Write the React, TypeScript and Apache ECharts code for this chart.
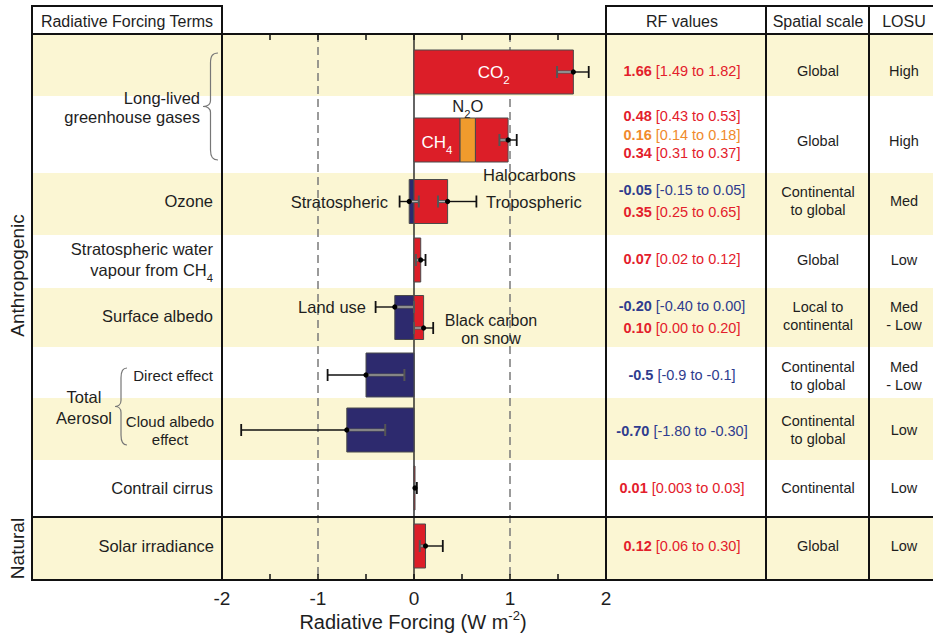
import React, { useEffect, useRef } from "react";
import * as echarts from "echarts";

// ---------------- DATA ----------------
const COMPONENTS = [
  "CO2", "CH4", "N2O", "Halocarbons",
  "Stratospheric ozone", "Tropospheric ozone",
  "Stratospheric water vapour",
  "Land use", "Black carbon on snow",
  "Direct effect", "Cloud albedo effect",
  "Contrail cirrus", "Solar irradiance",
];
const RF_MEAN = ["1.66", "0.48", "0.16", "0.34", "-0.05", "0.35", "0.07", "-0.20", "0.10", "-0.5", "-0.70", "0.01", "0.12"];
const RF_LOW = ["1.49", "0.43", "0.14", "0.31", "-0.15", "0.25", "0.02", "-0.40", "0.00", "-0.9", "-1.80", "0.003", "0.06"];
const RF_HIGH = ["1.82", "0.53", "0.18", "0.37", "0.05", "0.65", "0.12", "0.00", "0.20", "-0.1", "-0.30", "0.03", "0.30"];
// components whose own error bar is drawn
const HAS_ERRBAR = [true, false, false, false, true, true, true, true, true, true, true, true, true];
// combined error bar of CH4 + N2O + halocarbons stack: [mean, low, high]
const LLGHG_STACK_ERR = [0.98, 0.89, 1.07];

const SPATIAL_SCALE = [
  ["Global"], ["Global"], ["Continental", "to global"], ["Global"],
  ["Local to", "continental"], ["Continental", "to global"], ["Continental", "to global"],
  ["Continental"], ["Global"],
];
const LOSU = [["High"], ["High"], ["Med"], ["Low"], ["Med", "- Low"], ["Med", "- Low"], ["Low"], ["Low"], ["Low"]];
const X_TICK_LABELS = [-2, -1, 0, 1, 2];
const GUIDE_VALUES = [-1, 0, 1];

// ---------------- LAYOUT ----------------
const FONT = '"Liberation Sans", Arial, Helvetica, sans-serif';
const COLS = [32, 222, 606, 766, 869];
const TOP = 6;
const HEAD = 34;
const BOTTOM = 580;
const NATURAL_SEP = 517;
const RIGHT = 933;
const ROW_EDGES = [34, 96, 173, 235, 288, 347, 398, 460, 517, 580];
const ROW_BAR_Y = [72, 140, 201.5, 260, 317.5, 375, 430, 488, 546];
const COMP_ROW = [0, 1, 1, 1, 2, 2, 3, 4, 4, 5, 6, 7, 8];
const ERR_DY = [0, 0, 0, 0, 0, 0, 0, -10.5, 10.5, 0, 0, 0, 0];
const RF_TEXT_Y = [71, 116, 135, 153, 190, 212, 259, 306, 328, 375, 431, 488, 546];
const ROW_TEXT_Y = [71, 141, 201, 260, 316, 376, 430, 488, 546];
const BAR_H = 44;
const CAP = 6;

const YELLOW = "#fbf6d3";
const BAR_RED = "#dc1e28";
const BAR_BLUE = "#2d2a6e";
const BAR_ORANGE = "#f09b2d";
const TXT_RED = "#e3202b";
const TXT_ORANGE = "#f08a2c";
const TXT_BLUE = "#2f3c8e";
const INK = "#1e1e1e";

function kindOf(i: number): "red" | "blue" | "orange" {
  if (COMPONENTS[i] === "N2O") return "orange";
  return Number(RF_MEAN[i]) < 0 ? "blue" : "red";
}
const BAR_COLORS: Record<string, string> = { red: BAR_RED, blue: BAR_BLUE, orange: BAR_ORANGE };
const TXT_COLORS: Record<string, string> = { red: TXT_RED, blue: TXT_BLUE, orange: TXT_ORANGE };

function braceD(w: number, h: number) {
  const m = h / 2;
  const k = w / 2;
  return `M${w},0 C${k + 2},0 ${k},3 ${k},10 L${k},${m - 6} C${k},${m - 2} ${k - 3},${m} 0,${m} C${k - 3},${m} ${k},${m + 2} ${k},${m + 6} L${k},${h - 10} C${k},${h - 3} ${k + 2},${h} ${w},${h}`;
}

function txt(x: number, y: number, text: string, o: any = {}) {
  const align = o.align || "right";
  return {
    type: "text",
    x,
    y,
    z: 20,
    rotation: o.rotation || 0,
    style: {
      text,
      fill: o.fill || INK,
      fontSize: o.fontSize || 16,
      fontFamily: FONT,
      fontWeight: o.fontWeight || "normal",
      align,
      textAlign: align,
      verticalAlign: "middle",
      textVerticalAlign: "middle",
      rich: o.rich,
    },
  };
}
function subRich(size: number, fill: string) {
  return {
    n: { fontSize: size, fontFamily: FONT, fill, color: fill, lineHeight: size + 10 },
    s: { fontSize: size * 0.68, fontFamily: FONT, fill, color: fill, verticalAlign: "bottom", lineHeight: size * 0.68 + 1 },
  };
}
function hline(x1: number, x2: number, y: number, w = 2) {
  return { type: "line", z: 30, shape: { x1, y1: y, x2, y2: y }, style: { stroke: "#111", lineWidth: w } };
}
function vline(x: number, y1: number, y2: number, w = 2) {
  return { type: "line", z: 30, shape: { x1: x, y1, x2: x, y2 }, style: { stroke: "#111", lineWidth: w } };
}

export default function App() {
  const ref = useRef<HTMLDivElement>(null);

  useEffect(() => {
    const el = ref.current!;
    echarts.graphic.registerShape("braceLL", echarts.graphic.extendPath(braceD(15, 107), {}));
    echarts.graphic.registerShape("braceAer", echarts.graphic.extendPath(braceD(12, 77), {}));
    const chart = echarts.init(el, null, { renderer: "svg" });

    // stacked bars
    const posAcc: Record<number, number> = {};
    const negAcc: Record<number, number> = {};
    const barData = RF_MEAN.map((m, i) => {
      const v = Number(m);
      const r = COMP_ROW[i];
      const acc = v >= 0 ? posAcc : negAcc;
      const s = acc[r] ?? 0;
      acc[r] = s + v;
      return [s, s + v, ROW_BAR_Y[r], i];
    });

    const errData: number[][] = [];
    RF_MEAN.forEach((m, i) => {
      if (HAS_ERRBAR[i]) {
        errData.push([Number(m), Number(RF_LOW[i]), Number(RF_HIGH[i]), ROW_BAR_Y[COMP_ROW[i]] + ERR_DY[i]]);
      }
    });
    errData.push([LLGHG_STACK_ERR[0], LLGHG_STACK_ERR[1], LLGHG_STACK_ERR[2], ROW_BAR_Y[1]]);

    const elements: any[] = [];
    // bands
    for (let r = 0; r < ROW_EDGES.length - 1; r++) {
      elements.push({
        type: "rect",
        z: -5,
        shape: { x: COLS[0], y: ROW_EDGES[r], width: RIGHT - COLS[0], height: ROW_EDGES[r + 1] - ROW_EDGES[r] },
        style: { fill: r % 2 === 0 ? YELLOW : "#ffffff" },
      });
    }
    // frame
    elements.push(hline(COLS[0] - 1, COLS[1] + 1, TOP));
    elements.push(hline(COLS[2] - 1, RIGHT, TOP));
    elements.push(hline(COLS[0] - 1, RIGHT, HEAD));
    elements.push(hline(COLS[0] - 1, RIGHT, NATURAL_SEP));
    elements.push(hline(COLS[0] - 1, RIGHT, BOTTOM));
    COLS.forEach((x) => elements.push(vline(x, TOP, BOTTOM + 1)));

    // headers
    elements.push(txt((COLS[0] + COLS[1]) / 2, 21, "Radiative Forcing Terms", { align: "center", fontSize: 16 }));
    elements.push(txt(682, 21, "RF values", { align: "center", fontSize: 16 }));
    elements.push(txt(818, 21, "Spatial scale", { align: "center", fontSize: 16 }));
    elements.push(txt(904, 21, "LOSU", { align: "center", fontSize: 16 }));

    // vertical category labels
    elements.push(txt(17, (HEAD + NATURAL_SEP) / 2, "Anthropogenic", { align: "center", fontSize: 19, rotation: Math.PI / 2 }));
    elements.push(txt(17, (NATURAL_SEP + BOTTOM) / 2, "Natural", { align: "center", fontSize: 19, rotation: Math.PI / 2 }));

    // left term labels
    elements.push(txt(200, 98, "Long-lived", { fontSize: 16.5 }));
    elements.push(txt(200, 117, "greenhouse gases", { fontSize: 16.5 }));
    elements.push({ type: "braceLL", x: 203, y: 53, z: 20, style: { fill: null, stroke: "#777", lineWidth: 1.2 } });
    elements.push(txt(213, ROW_TEXT_Y[2], "Ozone", { fontSize: 16.5 }));
    elements.push(txt(213, 249, "Stratospheric water", { fontSize: 16.5 }));
    elements.push(txt(213, 270, "{n|vapour from CH}{s|4}", { rich: subRich(16.5, INK) }));
    elements.push(txt(213, ROW_TEXT_Y[4], "Surface albedo", { fontSize: 16.5 }));
    elements.push(txt(213, 375, "Direct effect", { fontSize: 15 }));
    elements.push(txt(170, 421, "Cloud albedo", { align: "center", fontSize: 15 }));
    elements.push(txt(170, 439, "effect", { align: "center", fontSize: 15 }));
    elements.push({ type: "braceAer", x: 115, y: 368, z: 20, style: { fill: null, stroke: "#777", lineWidth: 1.2 } });
    elements.push(txt(84, 397, "Total", { align: "center", fontSize: 16.5 }));
    elements.push(txt(84, 418, "Aerosol", { align: "center", fontSize: 16.5 }));
    elements.push(txt(213, ROW_TEXT_Y[7], "Contrail cirrus", { fontSize: 16.5 }));
    elements.push(txt(214, ROW_TEXT_Y[8], "Solar irradiance", { fontSize: 16.5 }));

    // in-plot annotations
    const xPix = (v: number) => 414 + v * 96;
    const midOf = (i: number) => (barData[i][0] + barData[i][1]) / 2;
    elements.push(txt(xPix(midOf(0)), 72, "{n|CO}{s|2}", { align: "center", rich: subRich(17, "#ffffff") }));
    elements.push(txt(xPix(midOf(1)), 142, "{n|CH}{s|4}", { align: "center", rich: subRich(17, "#ffffff") }));
    elements.push(txt(xPix(midOf(2)), 106, "{n|N}{s|2}{n|O}", { align: "center", rich: subRich(16.5, INK) }));
    elements.push(txt(483, 175, "Halocarbons", { align: "left", fontSize: 16.5 }));
    elements.push(txt(388, 202, "Stratospheric", { align: "right", fontSize: 16.5 }));
    elements.push(txt(486, 202, "Tropospheric", { align: "left", fontSize: 16.5 }));
    elements.push(txt(366, 307, "Land use", { align: "right", fontSize: 16.5 }));
    elements.push(txt(491, 320, "Black carbon", { align: "center", fontSize: 16 }));
    elements.push(txt(491, 338, "on snow", { align: "center", fontSize: 16 }));

    // RF values column
    RF_MEAN.forEach((m, i) => {
      const c = TXT_COLORS[kindOf(i)];
      elements.push(
        txt(682, RF_TEXT_Y[i], `{b|${m}} {r|[${RF_LOW[i]} to ${RF_HIGH[i]}]}`, {
          align: "center",
          fontSize: 14.5,
          fill: c,
          rich: {
            b: { fontWeight: "bold", fontSize: 14.5, fontFamily: FONT, fill: c, color: c },
            r: { fontSize: 14.5, fontFamily: FONT, fill: c, color: c },
          },
        })
      );
    });
    // spatial scale & LOSU
    const multi = (x: number, yc: number, lines: string[]) => {
      const lh = 18;
      lines.forEach((ln, k) => {
        elements.push(txt(x, yc + (k - (lines.length - 1) / 2) * lh, ln, { align: "center", fontSize: 14.5 }));
      });
    };
    SPATIAL_SCALE.forEach((lines, r) => multi(818, ROW_TEXT_Y[r], lines));
    LOSU.forEach((lines, r) => multi(904, ROW_TEXT_Y[r], lines));

    // axis name
    elements.push(
      txt(413, 622, "{n|Radiative Forcing (W m}{s|-2}{n|)}", {
        align: "center",
        rich: {
          n: { fontSize: 20, fontFamily: FONT, fill: INK, color: INK, lineHeight: 27 },
          s: { fontSize: 13, fontFamily: FONT, fill: INK, color: INK, verticalAlign: "top", lineHeight: 14 },
        },
      })
    );

    const axisCommon = {
      type: "value",
      min: -2,
      max: 2,
      interval: 0.5,
      splitLine: { show: false },
      axisLine: { show: true, lineStyle: { color: "#111", width: 2 } },
      axisTick: { show: true, inside: true, length: 6, lineStyle: { color: "#111", width: 1.5 } },
      z: 10,
    };

    const option: any = {
      animation: false,
      backgroundColor: "#ffffff",
      grid: { left: COLS[1], right: RIGHT - COLS[2], top: HEAD, bottom: 634 - BOTTOM, show: false },
      xAxis: [
        {
          ...axisCommon,
          position: "bottom",
          axisLabel: {
            show: true,
            interval: 0,
            margin: 9,
            fontSize: 19,
            fontFamily: FONT,
            color: INK,
            showMinLabel: true,
            showMaxLabel: true,
            formatter: (v: number) => (X_TICK_LABELS.indexOf(v) >= 0 ? String(v) : ""),
          },
        },
        { ...axisCommon, position: "top", axisLabel: { show: false } },
      ],
      yAxis: { type: "value", min: ROW_EDGES[0], max: ROW_EDGES[ROW_EDGES.length - 1], inverse: true, show: false },
      graphic: { elements },
      series: [
        {
          type: "custom",
          name: "guides",
          z: 1,
          silent: true,
          encode: { x: 0, y: 1 },
          data: GUIDE_VALUES.map((v) => [v, ROW_EDGES[0]]),
          renderItem: (params: any, api: any) => {
            const v = api.value(0);
            const cs = params.coordSys;
            const x = api.coord([v, ROW_EDGES[0]])[0];
            const zero = v === 0;
            return {
              type: "line",
              shape: { x1: x, y1: cs.y, x2: x, y2: cs.y + cs.height },
              style: { stroke: zero ? "#111" : "#7a7a7a", lineWidth: zero ? 1.3 : 1.5, lineDash: zero ? null : [8, 5] },
            };
          },
        },
        {
          type: "custom",
          name: "bars",
          z: 2,
          encode: { x: [0, 1], y: 2 },
          data: barData,
          renderItem: (_p: any, api: any) => {
            const s = api.value(0);
            const e = api.value(1);
            const yc = api.value(2);
            const i = api.value(3);
            const p0 = api.coord([s, yc]);
            const p1 = api.coord([e, yc]);
            const x = Math.min(p0[0], p1[0]);
            const w = Math.max(Math.abs(p1[0] - p0[0]), 1);
            return {
              type: "rect",
              shape: { x, y: p0[1] - BAR_H / 2, width: w, height: BAR_H },
              style: { fill: BAR_COLORS[kindOf(i)], stroke: "#4a4a4a", lineWidth: 1 },
            };
          },
        },
        {
          type: "custom",
          name: "uncertainty",
          z: 4,
          encode: { x: [0, 1, 2], y: 3 },
          data: errData,
          renderItem: (_p: any, api: any) => {
            const m = api.value(0);
            const lo = api.value(1);
            const hi = api.value(2);
            const y = api.value(3);
            const pm = api.coord([m, y]);
            const pl = api.coord([lo, y]);
            const ph = api.coord([hi, y]);
            const innerEnd = m >= 0 ? pl : ph;
            const outerEnd = m >= 0 ? ph : pl;
            const children: any[] = [
              { type: "line", shape: { x1: pm[0], y1: y, x2: innerEnd[0], y2: y }, style: { stroke: "#555", lineWidth: 3.2 } },
              { type: "line", shape: { x1: pm[0], y1: y, x2: innerEnd[0], y2: y }, style: { stroke: "#b5b5b5", lineWidth: 1.2 } },
              { type: "line", shape: { x1: innerEnd[0], y1: y - CAP, x2: innerEnd[0], y2: y + CAP }, style: { stroke: "#555", lineWidth: 2 } },
              { type: "line", shape: { x1: pm[0], y1: y, x2: outerEnd[0], y2: y }, style: { stroke: "#111", lineWidth: 1.4 } },
              { type: "line", shape: { x1: outerEnd[0], y1: y - CAP, x2: outerEnd[0], y2: y + CAP }, style: { stroke: "#111", lineWidth: 1.8 } },
              { type: "circle", shape: { cx: pm[0], cy: y, r: 2.6 }, style: { fill: "#000" } },
            ];
            return { type: "group", children };
          },
        },
      ],
    };

    chart.setOption(option);
    return () => chart.dispose();
  }, []);

  return (
    <div
      ref={ref}
      style={{ position: "fixed", left: 0, top: 0, width: 933, height: 634, background: "#ffffff" }}
    />
  );
}
